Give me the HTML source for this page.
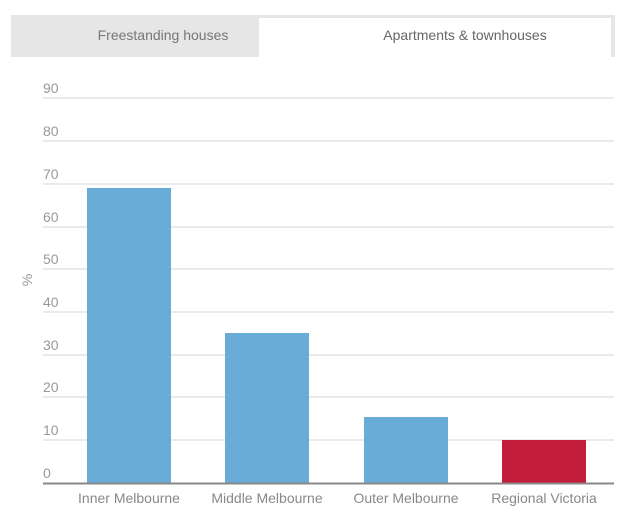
<!DOCTYPE html>
<html><head><style>
body{margin:0;background:#fff;font-family:"Liberation Sans",sans-serif;}
</style></head><body>
<svg width="640" height="511" xmlns="http://www.w3.org/2000/svg" font-family="Liberation Sans, sans-serif">
<rect x="11" y="15" width="604" height="42" fill="#e6e6e6"/>
<rect x="259" y="18" width="352" height="39" fill="#fff"/>
<text x="163" y="40" font-size="14" fill="#777" text-anchor="middle">Freestanding houses</text>
<text x="465" y="40" font-size="14" fill="#666" text-anchor="middle">Apartments &amp; townhouses</text>
<g stroke="#d6d6d6" stroke-width="1">
<line x1="43" x2="614" y1="98" y2="98"/><line x1="43" x2="614" y1="141" y2="141"/>
<line x1="43" x2="614" y1="184" y2="184"/><line x1="43" x2="614" y1="227" y2="227"/>
<line x1="43" x2="614" y1="269" y2="269"/><line x1="43" x2="614" y1="312" y2="312"/>
<line x1="43" x2="614" y1="355" y2="355"/><line x1="43" x2="614" y1="397" y2="397"/>
<line x1="43" x2="614" y1="440" y2="440"/>
</g>
<g font-size="14" fill="#999">
<text x="43" y="93">90</text><text x="43" y="136">80</text><text x="43" y="179">70</text>
<text x="43" y="222">60</text><text x="43" y="264">50</text><text x="43" y="307">40</text>
<text x="43" y="350">30</text><text x="43" y="392">20</text><text x="43" y="435">10</text>
<text x="43" y="478">0</text>
</g>
<text transform="translate(32,280) rotate(-90)" font-size="14" fill="#999" text-anchor="middle">%</text>
<rect x="87" y="188" width="84" height="295" fill="#69acd7"/>
<rect x="225" y="333" width="84" height="150" fill="#69acd7"/>
<rect x="364" y="417" width="84" height="66" fill="#69acd7"/>
<rect x="502" y="440" width="84" height="43" fill="#c41c3b"/>
<line x1="43" x2="614" y1="483.5" y2="483.5" stroke="#888" stroke-width="2"/>
<g font-size="14" fill="#888" text-anchor="middle">
<text x="129" y="503">Inner Melbourne</text><text x="267" y="503">Middle Melbourne</text>
<text x="406" y="503">Outer Melbourne</text><text x="544" y="503">Regional Victoria</text>
</g>
</svg>
</body></html>
